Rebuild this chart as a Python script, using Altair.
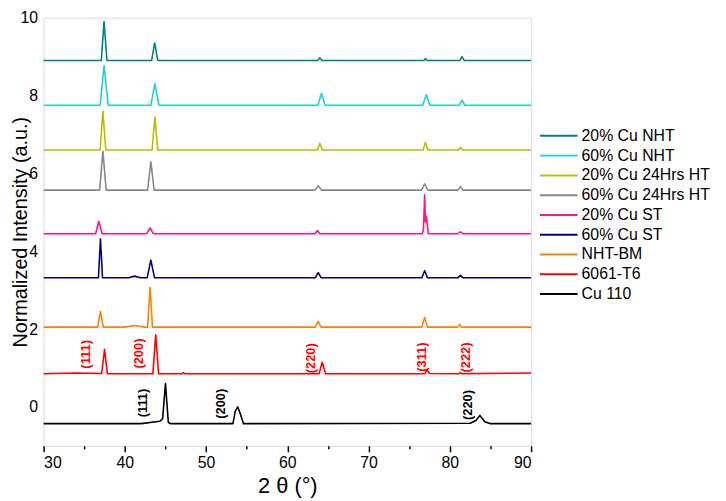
import altair as alt
import pandas as pd

# ---------------- data ----------------
names = ["20% Cu NHT", "60% Cu NHT", "20% Cu 24Hrs HT", "60% Cu 24Hrs HT",
         "20% Cu ST", "60% Cu ST", "NHT-BM", "6061-T6", "Cu 110"]
colors = ["#008080", "#1ED2D4", "#BABD00", "#888888",
          "#FF1484", "#000080", "#FF8000", "#FF0000", "#000000"]

x_teal = [30, 37.1, 37.44, 37.8, 43.3, 43.67, 44.05, 63.75, 64.0, 64.25, 76.8, 77.0, 77.2, 81.25, 81.5, 81.75, 90]
y_teal = [8.9, 8.9, 9.9, 8.9, 8.9, 9.35, 8.9, 8.9, 8.97, 8.9, 8.9, 8.95, 8.9, 8.9, 9.0, 8.9, 8.9]

x_cyan = [30, 36.95, 37.45, 37.95, 43.2, 43.7, 44.2, 63.75, 64.2, 64.65, 76.65, 77.1, 77.55, 81.15, 81.5, 81.85, 90]
y_cyan = [7.75, 7.75, 8.77, 7.75, 7.75, 8.3, 7.75, 7.75, 8.05, 7.75, 7.75, 8.02, 7.75, 7.75, 7.88, 7.75, 7.75]

x_olive = [30, 36.95, 37.3, 37.65, 43.35, 43.7, 44.05, 63.7, 64.0, 64.3, 76.7, 77.0, 77.3, 81.05, 81.3, 81.55, 90]
y_olive = [6.6, 6.6, 7.6, 6.6, 6.6, 7.45, 6.6, 6.6, 6.77, 6.6, 6.6, 6.8, 6.6, 6.6, 6.67, 6.6, 6.6]

x_gray = [30, 36.9, 37.3, 37.7, 42.8, 43.2, 43.6, 63.4, 63.8, 64.2, 76.5, 76.9, 77.3, 81.0, 81.3, 81.6, 90]
y_gray = [5.57, 5.57, 6.57, 5.57, 5.57, 6.3, 5.57, 5.57, 5.68, 5.57, 5.57, 5.73, 5.57, 5.57, 5.66, 5.57, 5.57]

x_pink = [30, 36.4, 36.8, 37.2, 42.7, 43.1, 43.5, 63.4, 63.7, 64.0, 76.6, 76.75, 76.9, 77.0, 77.1, 77.35, 81.0, 81.3, 81.6, 90]
y_pink = [4.45, 4.45, 4.77, 4.45, 4.45, 4.6, 4.45, 4.45, 4.53, 4.45, 4.45, 4.55, 5.45, 4.75, 4.9, 4.45, 4.45, 4.5, 4.45, 4.45]

x_navy = [30, 36.75, 37.0, 37.25, 40.5, 41.2, 41.9, 42.75, 43.2, 43.65, 63.45, 63.8, 64.15, 76.55, 76.9, 77.25, 81.0, 81.3, 81.6, 90]
y_navy = [3.32, 3.32, 4.32, 3.32, 3.32, 3.36, 3.32, 3.32, 3.77, 3.32, 3.32, 3.45, 3.32, 3.32, 3.5, 3.32, 3.32, 3.38, 3.32, 3.32]

x_orange = [30, 36.65, 37.0, 37.35, 40.0, 41.2, 42.4, 42.8, 43.1, 43.4, 63.45, 63.8, 64.15, 76.55, 76.9, 77.25, 80.95, 81.2, 81.45, 90]
y_orange = [2.05, 2.05, 2.45, 2.05, 2.05, 2.09, 2.05, 2.05, 3.07, 2.05, 2.05, 2.2, 2.05, 2.05, 2.3, 2.05, 2.05, 2.12, 2.05, 2.05]

x_red = [30, 34.0, 37.15, 37.5, 37.85, 43.45, 43.8, 44.15, 47.0, 47.2, 47.4, 63.9, 64.3, 64.7, 76.9, 77.2, 77.5, 81.1, 81.3, 81.5, 90]
y_red = [0.85, 0.87, 0.86, 1.48, 0.85, 0.85, 1.85, 0.85, 0.85, 0.88, 0.85, 0.85, 1.15, 0.85, 0.85, 0.95, 0.86, 0.85, 0.88, 0.85, 0.87]

x_black = [30, 42.0, 44.3, 44.65, 45.0, 45.35, 45.6, 53.3, 53.6, 53.9, 54.25, 54.6, 82.5, 83.2, 83.7, 84.3, 85.0, 90]
y_black = [-0.43, -0.43, -0.37, -0.3, 0.6, -0.4, -0.43, -0.43, -0.1, 0.0, -0.2, -0.43, -0.42, -0.35, -0.22, -0.38, -0.43, -0.43]

xs_all = [x_teal, x_cyan, x_olive, x_gray, x_pink, x_navy, x_orange, x_red, x_black]
ys_all = [y_teal, y_cyan, y_olive, y_gray, y_pink, y_navy, y_orange, y_red, y_black]

# peak index labels
red_labels = ["(111)", "(200)", "(220)", "(311)", "(222)"]
red_x = [35.2, 41.8, 62.9, 76.55, 82.0]
red_y = [1.35, 1.37, 1.25, 1.28, 1.27]

black_labels = ["(111)", "(200)", "(220)"]
black_x = [42.2, 51.9, 82.3]
black_y = [0.1, 0.08, 0.05]

x_ticks = [30, 35, 40, 45, 50, 55, 60, 65, 70, 75, 80, 85, 90]
y_ticks = [0, 2, 4, 6, 8, 10]

# ---------------- build tables ----------------
rows = []
for name, xs, ys in zip(names, xs_all, ys_all):
    for i, (xv, yv) in enumerate(zip(xs, ys)):
        rows.append({"series": name, "two_theta": xv, "intensity": yv, "idx": i})
df = pd.DataFrame(rows)

red_df = pd.DataFrame({"label": red_labels, "two_theta": red_x, "intensity": red_y})
black_df = pd.DataFrame({"label": black_labels, "two_theta": black_x, "intensity": black_y})

FONT = "Liberation Sans"

x_scale = alt.Scale(domain=[30, 90], nice=False, zero=False)
y_scale = alt.Scale(domain=[-1, 10], nice=False, zero=False)

x_axis = alt.Axis(
    values=x_ticks,
    labelExpr="datum.value % 10 == 0 ? datum.label : ''",
    tickSize={"condition": {"test": "datum.value % 10 === 0", "value": 6}, "value": 3},
    tickColor="black", tickWidth=1.5, grid=False, domain=False,
    labelFontSize=16, labelColor="black", labelPadding=3, labelFont=FONT,
    titleFontSize=22, titleFontWeight="normal", titleColor="black", titleFont=FONT,
    titleY=40, titleBaseline="middle",
)
y_axis = alt.Axis(
    values=y_ticks, ticks=False, grid=False, domain=False,
    labelFontSize=16, labelColor="black", labelPadding=6, labelFont=FONT,
    titleFontSize=20, titleFontWeight="normal", titleColor="black", titleFont=FONT,
    titleX=-23, titleBaseline="middle",
)

lines = alt.Chart(df).mark_line(strokeWidth=1.6, strokeJoin="round").encode(
    x=alt.X("two_theta:Q", scale=x_scale, axis=x_axis, title="2 θ (°)"),
    y=alt.Y("intensity:Q", scale=y_scale, axis=y_axis, title="Normalized Intensity (a.u.)"),
    color=alt.Color(
        "series:N",
        scale=alt.Scale(domain=names, range=colors),
        sort=names,
        legend=alt.Legend(
            title=None, orient="none", legendX=501, legendY=109,
            symbolType="M-1,0L3,0", symbolSize=361, symbolStrokeWidth=2,
            labelFontSize=16, labelFont=FONT, labelColor="black",
            labelOffset=22, rowPadding=1, padding=0, labelLimit=300,
        ),
    ),
    order="idx:Q",
)

red_text = alt.Chart(red_df).mark_text(
    angle=270, fontSize=13, fontWeight="bold", font=FONT, color="#FF0000",
    align="center", baseline="middle",
).encode(x=alt.X("two_theta:Q", scale=x_scale), y=alt.Y("intensity:Q", scale=y_scale), text="label:N")

black_text = alt.Chart(black_df).mark_text(
    angle=270, fontSize=13, fontWeight="bold", font=FONT, color="#000000",
    align="center", baseline="middle",
).encode(x=alt.X("two_theta:Q", scale=x_scale), y=alt.Y("intensity:Q", scale=y_scale), text="label:N")

chart = alt.layer(lines, red_text, black_text).properties(
    width=493, height=433,
    autosize=alt.AutoSizeParams(type="none"),
    padding={"left": 36, "top": 7, "right": 189, "bottom": 53},
).configure_view(
    stroke="black", strokeWidth=1.5
).configure(font=FONT)

chart.save("out.html", embed_options={"renderer": "svg", "actions": False})
